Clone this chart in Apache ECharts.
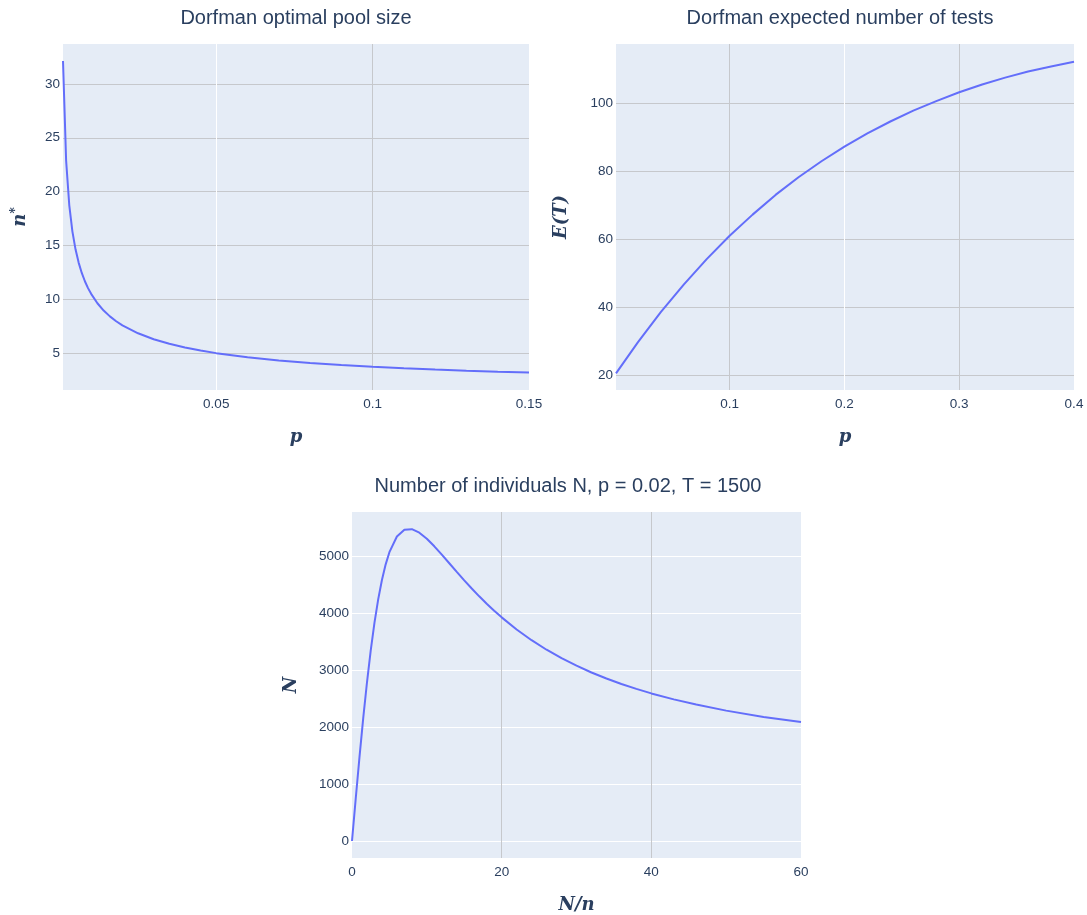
<!DOCTYPE html>
<html>
<head>
<meta charset="utf-8">
<script src="https://cdn.jsdelivr.net/npm/echarts@6/dist/echarts.min.js"></script>
<style>
  html, body { margin: 0; padding: 0; background: #ffffff; }
  #chart { width: 1087px; height: 915px; }
</style>
</head>
<body>
<div id="chart"></div>
<script>
// ---- Data ----
// Top-left: Dorfman optimal pool size n* vs prevalence p
const poolP = [0.001,0.002,0.003,0.004,0.005,0.006,0.007,0.008,0.009,0.01,0.012,0.014,0.016,0.018,0.02,0.025,0.03,0.035,0.04,0.045,0.05,0.06,0.07,0.08,0.09,0.1,0.11,0.12,0.13,0.14,0.15];
const poolN = [32.13,22.87,18.76,16.32,14.65,13.42,12.46,11.69,11.05,10.52,9.65,8.97,8.43,7.98,7.60,6.86,6.31,5.89,5.55,5.26,5.02,4.64,4.34,4.11,3.92,3.76,3.62,3.50,3.39,3.30,3.22];

// Top-right: Dorfman expected number of tests E(T) vs p
const testsP = [0.001,0.02,0.04,0.06,0.08,0.1,0.12,0.14,0.16,0.18,0.2,0.22,0.24,0.26,0.28,0.3,0.32,0.34,0.36,0.38,0.4];
const testsE = [20.5,29.6,38.5,46.6,54.1,61.0,67.2,73.0,78.2,82.9,87.2,91.1,94.6,97.8,100.6,103.2,105.5,107.5,109.3,110.8,112.2];

// Bottom: Number of individuals N vs N/n (p = 0.02, T = 1500)
const indivX = [0,0.5,1,1.5,2,2.5,3,3.5,4,4.5,5,6,7,8,9,10,11,12,13,14,15,16,17,18,19,20,22,24,26,28,30,32,34,36,38,40,43,46,50,55,60];
const indivN = [0,746,1471,2154,2780,3339,3825,4238,4578,4853,5066,5341,5460,5470,5408,5302,5169,5023,4872,4720,4572,4429,4292,4162,4039,3923,3710,3522,3355,3207,3075,2956,2850,2755,2668,2589,2484,2393,2287,2177,2086];

// Titles
const titles = ['Dorfman optimal pool size', 'Dorfman expected number of tests', 'Number of individuals N, p = 0.02, T = 1500'];

// ---- Styling ----
const TXT = '#2a3f5f';
const BG = '#E5ECF6';
const WHITE = '#ffffff';
const GRAY = '#c6c8cc';
const SANS = '"Liberation Sans", Arial, sans-serif';
const SERIF = '"DejaVu Serif", "Liberation Serif", serif';
const TICK = 13.5;

function pair(xs, ys) { return xs.map((x, i) => [x, ys[i]]); }
function fmt(v) { return String(Math.round(v * 1e6) / 1e6); }
const nameStyle = { color: TXT, fontFamily: SERIF, fontStyle: 'italic', fontWeight: 'bold', fontSize: 18 };

function xAxis(gridIndex, min, max, step, name, colors) {
  return {
    type: 'value', gridIndex, min, max, minInterval: step, maxInterval: step,
    axisLine: { show: false }, axisTick: { show: false },
    axisLabel: { color: TXT, fontFamily: SANS, fontSize: TICK, margin: 7, formatter: fmt, showMinLabel: min % step === 0, showMaxLabel: true },
    splitLine: { show: true, showMinLine: false, showMaxLine: false, lineStyle: { color: colors, width: 1 } },
    name, nameLocation: 'middle', nameGap: 38,
    nameTextStyle: Object.assign({}, nameStyle)
  };
}
function yAxis(gridIndex, min, max, step, name, colors, gap, rich) {
  return {
    type: 'value', gridIndex, min, max, minInterval: step, maxInterval: step,
    axisLine: { show: false }, axisTick: { show: false },
    axisLabel: { color: TXT, fontFamily: SANS, fontSize: TICK, margin: 3, formatter: fmt, showMinLabel: false, showMaxLabel: false },
    splitLine: { show: true, showMinLine: false, showMaxLine: false, lineStyle: { color: colors, width: 1 } },
    name, nameLocation: 'middle', nameGap: gap, nameRotate: 90,
    nameTextStyle: Object.assign({}, nameStyle, rich ? { rich } : {})
  };
}
const titleStyle = { color: TXT, fontFamily: SANS, fontSize: 20, fontWeight: 'normal' };

const option = {
  backgroundColor: '#ffffff',
  animation: false,
  title: [
    { text: titles[0], left: 291, top: 3, textAlign: 'center', textStyle: titleStyle },
    { text: titles[1], left: 835, top: 3, textAlign: 'center', textStyle: titleStyle },
    { text: titles[2], left: 563, top: 471, textAlign: 'center', textStyle: titleStyle }
  ],
  grid: [
    { left: 63, top: 44, width: 466, height: 346, show: true, backgroundColor: BG, borderWidth: 0 },
    { left: 616, top: 44, width: 458, height: 346, show: true, backgroundColor: BG, borderWidth: 0 },
    { left: 352, top: 512, width: 449, height: 346, show: true, backgroundColor: BG, borderWidth: 0 }
  ],
  xAxis: [
    xAxis(0, 0.001, 0.15, 0.05, 'p', [WHITE, GRAY]),
    xAxis(1, 0.001, 0.4, 0.1, 'p', [GRAY, WHITE, GRAY]),
    xAxis(2, 0, 60, 20, 'N/n', [GRAY, GRAY])
  ],
  yAxis: [
    yAxis(0, 1.6, 33.7, 5, '{a|n}{b|*}', [GRAY], 32, {
      a: { fontFamily: SERIF, fontStyle: 'italic', fontWeight: 'bold', fontSize: 18, color: TXT },
      b: { fontFamily: SERIF, fontWeight: 'bold', fontSize: 12, color: TXT, padding: [0, 0, 9, 0] }
    }),
    yAxis(1, 15.6, 117.4, 20, 'E(T)', [GRAY], 46),
    yAxis(2, -298, 5771, 1000, 'N', [WHITE], 52)
  ],
  series: [
    { type: 'line', xAxisIndex: 0, yAxisIndex: 0, data: pair(poolP, poolN), showSymbol: false, lineStyle: { color: '#636efa', width: 2 }, itemStyle: { color: '#636efa' } },
    { type: 'line', xAxisIndex: 1, yAxisIndex: 1, data: pair(testsP, testsE), showSymbol: false, lineStyle: { color: '#636efa', width: 2 }, itemStyle: { color: '#636efa' } },
    { type: 'line', xAxisIndex: 2, yAxisIndex: 2, data: pair(indivX, indivN), showSymbol: false, lineStyle: { color: '#636efa', width: 2 }, itemStyle: { color: '#636efa' } }
  ]
};

const chart = echarts.init(document.getElementById('chart'), null, { renderer: 'canvas' });
chart.setOption(option);
</script>
</body>
</html>
